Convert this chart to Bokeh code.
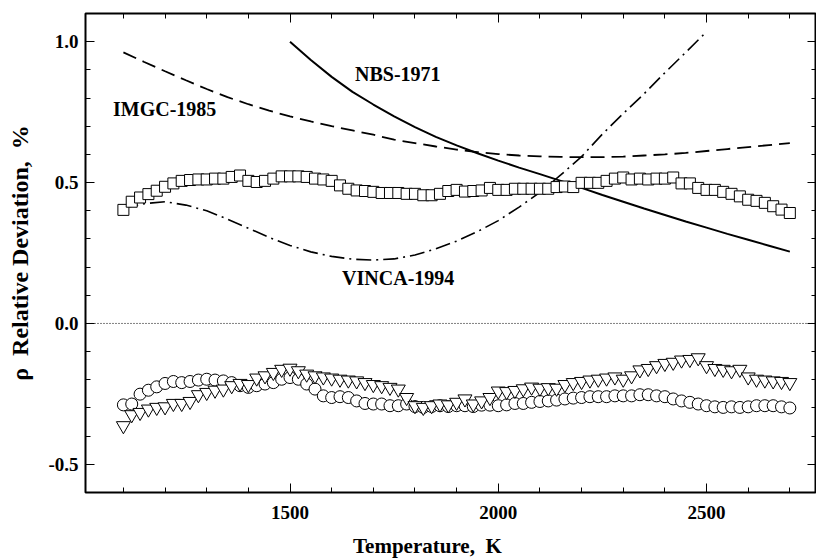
from bokeh.plotting import figure
from bokeh.models import Range1d, FixedTicker, LinearAxis, Span
from bokeh.core.properties import value
from bokeh.embed import file_html
from bokeh.resources import INLINE

FONT = "Liberation Serif"
NB = "\u00a0"

# ---- data ----
T_pts = list(range(1100, 2701, 20))

squares = [0.403, 0.432, 0.447, 0.459, 0.471, 0.485, 0.497, 0.506, 0.509, 0.511,
           0.511, 0.514, 0.514, 0.520, 0.525, 0.506, 0.502, 0.506, 0.514, 0.522,
           0.522, 0.522, 0.520, 0.514, 0.511, 0.506, 0.490, 0.478, 0.472, 0.470,
           0.467, 0.463, 0.463, 0.463, 0.460, 0.460, 0.455, 0.455, 0.460, 0.470,
           0.474,
           0.468, 0.470, 0.472, 0.481, 0.474, 0.474, 0.478, 0.478, 0.478, 0.478,
           0.478, 0.484, 0.486, 0.484, 0.499, 0.499, 0.499, 0.506, 0.514, 0.518,
           0.511, 0.514, 0.511, 0.514, 0.514, 0.518, 0.497, 0.497, 0.481, 0.474,
           0.474, 0.467, 0.460, 0.451, 0.439, 0.435, 0.428, 0.416, 0.404, 0.392]

circles = [-0.289, -0.286, -0.251, -0.237, -0.225, -0.213, -0.206, -0.210, -0.206, -0.201,
           -0.198, -0.201, -0.204, -0.210, -0.221, -0.227, -0.221, -0.215, -0.210, -0.198,
           -0.192, -0.198, -0.215, -0.233, -0.257, -0.263, -0.260, -0.263, -0.275, -0.284,
           -0.286, -0.286, -0.292, -0.292, -0.286,
           -0.295, -0.298, -0.295, -0.292, -0.295, -0.292, -0.292, -0.295, -0.290, -0.290,
           -0.292,
           -0.289, -0.284, -0.284, -0.280, -0.277, -0.275, -0.272, -0.268, -0.265, -0.263,
           -0.260, -0.260, -0.260, -0.257, -0.257, -0.257, -0.253, -0.253, -0.257, -0.260,
           -0.268, -0.275, -0.280, -0.286, -0.292, -0.296, -0.298, -0.296, -0.298, -0.296,
           -0.292, -0.292, -0.292, -0.296, -0.300]

triangles = [-0.363, -0.324, -0.316, -0.304, -0.298, -0.296, -0.284, -0.284, -0.277, -0.253,
             -0.245, -0.237, -0.233, -0.221, -0.213, -0.217, -0.194, -0.186, -0.174, -0.163,
             -0.159, -0.168, -0.180, -0.186, -0.190, -0.194, -0.198, -0.201, -0.204, -0.210,
             -0.217, -0.221, -0.227, -0.233, -0.263, -0.292, -0.298, -0.292, -0.286, -0.289,
             -0.280,
             -0.268, -0.286, -0.275, -0.263, -0.240, -0.242, -0.238, -0.232, -0.226, -0.230,
             -0.228, -0.230, -0.217, -0.210, -0.206, -0.201, -0.198, -0.194, -0.190, -0.198,
             -0.186, -0.165, -0.160, -0.150, -0.142, -0.138, -0.130, -0.128, -0.122, -0.150,
             -0.160, -0.163, -0.168, -0.163, -0.190, -0.198, -0.201, -0.204, -0.206, -0.210]

T_nbs = [1500, 1550, 1600, 1650, 1700, 1750, 1800, 1850, 1900, 1950, 2000, 2050, 2100,
         2150, 2200, 2250, 2300, 2350, 2400, 2450, 2500, 2550, 2600, 2650, 2700]
nbs = [1.000, 0.935, 0.875, 0.822, 0.777, 0.735, 0.697, 0.662, 0.632, 0.604, 0.578, 0.553,
       0.530, 0.506, 0.481, 0.456, 0.432, 0.408, 0.385, 0.362, 0.340, 0.318, 0.297, 0.276, 0.255]

T_imgc = [1100, 1150, 1200, 1250, 1300, 1350, 1400, 1450, 1500, 1550, 1600, 1650, 1700,
          1750, 1800, 1850, 1900, 1950, 2000, 2050, 2100, 2150, 2200, 2250, 2300, 2350,
          2400, 2450, 2500, 2550, 2600, 2650, 2700]
imgc = [0.962, 0.928, 0.895, 0.863, 0.832, 0.803, 0.778, 0.755, 0.735, 0.717, 0.700, 0.685,
        0.670, 0.652, 0.640, 0.628, 0.617, 0.608, 0.601, 0.596, 0.593, 0.591, 0.590, 0.590,
        0.592, 0.596, 0.600, 0.605, 0.612, 0.619, 0.626, 0.633, 0.640]

T_vinca = [1100, 1150, 1200, 1250, 1300, 1350, 1400, 1450, 1500, 1550, 1600, 1650, 1700,
           1750, 1800, 1850, 1900, 1950, 2000, 2050, 2100, 2150, 2200, 2250, 2300, 2350,
           2400, 2450, 2500]
vinca = [0.410, 0.425, 0.432, 0.420, 0.400, 0.370, 0.338, 0.305, 0.277, 0.254, 0.238, 0.228,
         0.225, 0.229, 0.243, 0.265, 0.292, 0.326, 0.365, 0.413, 0.465, 0.527, 0.592, 0.672,
         0.745, 0.815, 0.890, 0.962, 1.035]

curve_labels = ["NBS-1971", "IMGC-1985", "VINCA-1994"]
label_T = [1656, 1075, 1625]
label_v = [0.887, 0.760, 0.160]

x_major = [1500, 2000, 2500]
x_minor = list(range(1100, 2701, 100))
y_major = [-0.5, 0.0, 0.5, 1.0]
y_minor = [-0.6, -0.4, -0.3, -0.2, -0.1, 0.1, 0.2, 0.3, 0.4, 0.6, 0.7, 0.8, 0.9, 1.1]
y_tick_labels = {-0.5: "-0.5", 0.0: "0.0", 0.5: "0.5", 1.0: "1.0"}

# trailing no-break spaces shift the centred axis title a little to the left, as in the original
x_title = "Temperature," + NB + NB + "K" + NB * 9
y_title = "ρ" + NB + NB + "Relative Deviation," + NB + NB + "%"

# ---- figure ----
p = figure(width=816, height=560, output_backend="svg", toolbar_location=None,
           x_range=Range1d(1009, 2764), y_range=Range1d(-0.6, 1.1),
           min_border_left=85, min_border_right=0, min_border_top=13, min_border_bottom=66,
           x_axis_location=None, y_axis_location=None)
p.grid.visible = False
p.outline_line_color = "black"
p.outline_line_width = 2
p.background_fill_color = "white"
p.border_fill_color = "white"

xt = FixedTicker(ticks=x_major, minor_ticks=x_minor)
yt = FixedTicker(ticks=y_major, minor_ticks=y_minor)


def style(ax, labels=True):
    ax.axis_line_color = None
    ax.major_tick_in = 9
    ax.major_tick_out = 0
    ax.minor_tick_in = 5
    ax.minor_tick_out = 0
    ax.major_tick_line_color = "black"
    ax.minor_tick_line_color = "black"
    ax.major_tick_line_width = 1
    ax.minor_tick_line_width = 1
    if labels:
        ax.major_label_text_font = FONT
        ax.major_label_text_font_style = "bold"
        ax.major_label_text_font_size = "19px"
        ax.major_label_text_color = "black"
    else:
        ax.major_label_text_font_size = "0px"
        ax.major_label_text_alpha = 0


bx = LinearAxis(ticker=xt)
style(bx)
bx.major_label_standoff = 13
bx.axis_label = x_title
bx.axis_label_text_font = FONT
bx.axis_label_text_font_style = "bold"
bx.axis_label_text_font_size = "21px"
bx.axis_label_text_color = "black"
bx.axis_label_standoff = 12
p.add_layout(bx, "below")

lx = LinearAxis(ticker=yt, major_label_overrides=y_tick_labels)
style(lx)
lx.major_label_standoff = 7
lx.axis_label = y_title
lx.axis_label_text_font = FONT
lx.axis_label_text_font_style = "bold"
lx.axis_label_text_font_size = "24px"
lx.axis_label_text_color = "black"
lx.axis_label_standoff = 12
p.add_layout(lx, "left")

tx = LinearAxis(ticker=xt)
style(tx, labels=False)
p.add_layout(tx, "above")

rx = LinearAxis(ticker=yt)
style(rx, labels=False)
p.add_layout(rx, "right")

# zero line
p.add_layout(Span(location=0.0, dimension="width", line_color="black",
                  line_width=1, line_dash="1 2"))

# curves
p.line(T_imgc, imgc, line_color="black", line_width=1.8, line_dash="14 7")
p.line(T_vinca, vinca, line_color="black", line_width=1.6, line_dash="15 5 2 5")
p.line(T_nbs, nbs, line_color="black", line_width=2)

# markers
p.scatter(T_pts, squares, marker="square", size=11, fill_color="white",
          line_color="black", line_width=1)
p.scatter(T_pts, circles, marker="circle", size=12, fill_color="white",
          line_color="black", line_width=1)
p.scatter(T_pts, triangles, marker="inverted_triangle", size=14, fill_color="white",
          line_color="black", line_width=1)

# curve labels
p.text(x=label_T, y=label_v, text=curve_labels, text_font=value(FONT),
       text_font_style="bold", text_font_size="20px", text_color="black",
       text_align="left", text_baseline="middle")

open("out.html", "w").write(file_html(p, INLINE))
